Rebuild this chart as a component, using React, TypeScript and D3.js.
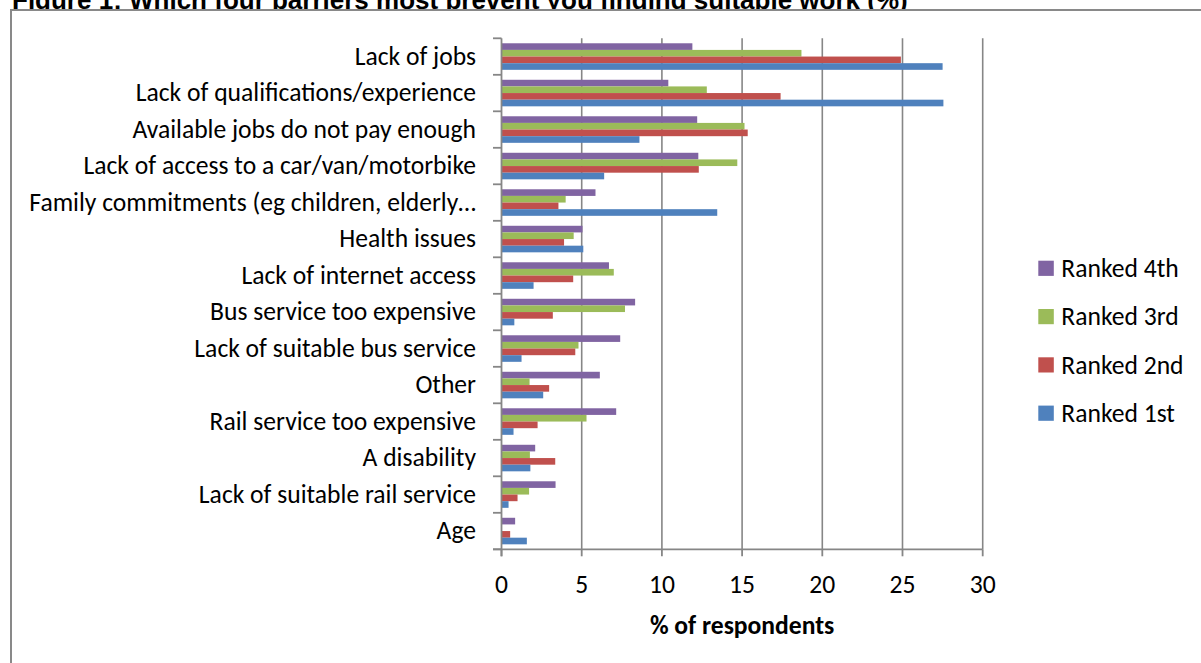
import React from "react";
import * as d3 from "d3";

const categories = [
  "Lack of jobs",
  "Lack of qualifications/experience",
  "Available jobs do not pay enough",
  "Lack of access to a car/van/motorbike",
  "Family commitments (eg children, elderly…",
  "Health issues",
  "Lack of internet access",
  "Bus service too expensive",
  "Lack of suitable bus service",
  "Other",
  "Rail service too expensive",
  "A disability",
  "Lack of suitable rail service",
  "Age",
];

const ranked4th = [11.9, 10.4, 12.2, 12.27, 5.86, 5.05, 6.7, 8.33, 7.4, 6.13, 7.15, 2.1, 3.37, 0.85];
const ranked3rd = [18.7, 12.8, 15.15, 14.7, 4.0, 4.5, 7.0, 7.7, 4.8, 1.75, 5.3, 1.77, 1.72, 0];
const ranked2nd = [24.9, 17.4, 15.35, 12.3, 3.55, 3.9, 4.47, 3.2, 4.6, 2.97, 2.25, 3.35, 1.0, 0.54];
const ranked1st = [27.5, 27.55, 8.6, 6.4, 13.45, 5.1, 2.0, 0.8, 1.25, 2.6, 0.75, 1.8, 0.44, 1.58];

const seriesNames = ["Ranked 4th", "Ranked 3rd", "Ranked 2nd", "Ranked 1st"];
const seriesValues = [ranked4th, ranked3rd, ranked2nd, ranked1st];
const seriesColors = ["#8064A2", "#9BBB59", "#C0504D", "#4F81BD"];

const xTicks = [0, 5, 10, 15, 20, 25, 30];

const titleText = "Figure 1: Which four barriers most prevent you finding suitable work (%)";
const xAxisTitle = "% of respondents";

const W = 1201;
const H = 663;
const plotLeft = 501.5;
const plotRight = 982.7;
const plotTop = 38.3;
const plotBottom = 549.3;
const gridColor = "#868686";
const labelFont = "Carlito, Calibri, Lato, 'Open Sans', sans-serif";
const labelSize = 25.6;

export default function App() {
  const x = d3.scaleLinear().domain([0, 30]).range([plotLeft, plotRight]);
  const gap = 1.5 / 5.5;
  const y = d3
    .scaleBand<string>()
    .domain(categories)
    .range([plotTop, plotBottom])
    .paddingInner(gap)
    .paddingOuter(gap / 2);
  const inner = d3
    .scaleBand<string>()
    .domain(seriesNames)
    .range([0, y.bandwidth()])
    .padding(0);
  const step = y.step();
  const boundaries = d3.range(categories.length + 1).map((i) => plotTop + i * step);

  const legendTop = 268.3;
  const legendStep = 48.3;

  return (
    <svg
      width={W}
      height={H}
      style={{ position: "absolute", left: 0, top: 0, display: "block", background: "#fff" }}
    >
      <rect x={0} y={0} width={W} height={H} fill="#fff" />
      <text
        x={12}
        y={8.5}
        fontFamily="'Liberation Sans', Arial, sans-serif"
        fontWeight="bold"
        fontSize={26}
        fill="#000"
      >
        {titleText}
      </text>
      <rect x={11} y={10} width={W + 20} height={H + 20} fill="#fff" stroke="#898989" strokeWidth={2} />

      {/* gridlines */}
      {xTicks.slice(1).map((t) => (
        <line key={"g" + t} x1={x(t)} x2={x(t)} y1={plotTop} y2={plotBottom} stroke={gridColor} strokeWidth={1.6} />
      ))}

      {/* bars */}
      {categories.map((c, ci) => (
        <g key={c}>
          {seriesNames.map((s, si) => {
            const v = seriesValues[si][ci];
            if (!v) return null;
            return (
              <rect
                key={s}
                x={x(0)}
                y={(y(c) as number) + (inner(s) as number)}
                width={x(v) - x(0)}
                height={inner.bandwidth()}
                fill={seriesColors[si]}
              />
            );
          })}
        </g>
      ))}

      {/* y axis */}
      <line x1={plotLeft} x2={plotLeft} y1={plotTop} y2={plotBottom + 7} stroke={gridColor} strokeWidth={1.8} />
      {boundaries.map((b, i) => (
        <line key={"yt" + i} x1={plotLeft - 8.5} x2={plotLeft} y1={b} y2={b} stroke={gridColor} strokeWidth={1.8} />
      ))}
      {categories.map((c) => (
        <text
          key={"l" + c}
          x={476}
          y={(y(c) as number) + y.bandwidth() / 2 + 8.3}
          textAnchor="end"
          fontFamily={labelFont}
          fontSize={labelSize}
          fill="#000"
        >
          {c}
        </text>
      ))}

      {/* x axis */}
      <line x1={plotLeft - 8.5} x2={plotRight} y1={plotBottom} y2={plotBottom} stroke={gridColor} strokeWidth={1.8} />
      {xTicks.map((t) => (
        <line key={"xt" + t} x1={x(t)} x2={x(t)} y1={plotBottom} y2={plotBottom + 7} stroke={gridColor} strokeWidth={1.8} />
      ))}
      {xTicks.map((t) => (
        <text
          key={"xl" + t}
          x={x(t)}
          y={593}
          textAnchor="middle"
          fontFamily={labelFont}
          fontSize={labelSize}
          fill="#000"
        >
          {t}
        </text>
      ))}
      <text
        x={(plotLeft + plotRight) / 2}
        y={634}
        textAnchor="middle"
        fontFamily={labelFont}
        fontWeight="bold"
        fontSize={labelSize}
        fill="#000"
      >
        {xAxisTitle}
      </text>

      {/* legend */}
      {seriesNames.map((s, i) => (
        <g key={"lg" + s} transform={`translate(1038.3, ${legendTop + i * legendStep})`}>
          <rect x={0} y={-7.6} width={15.5} height={15.2} fill={seriesColors[i]} />
          <text x={23} y={8.8} fontFamily={labelFont} fontSize={labelSize} fill="#000">
            {s}
          </text>
        </g>
      ))}
    </svg>
  );
}
